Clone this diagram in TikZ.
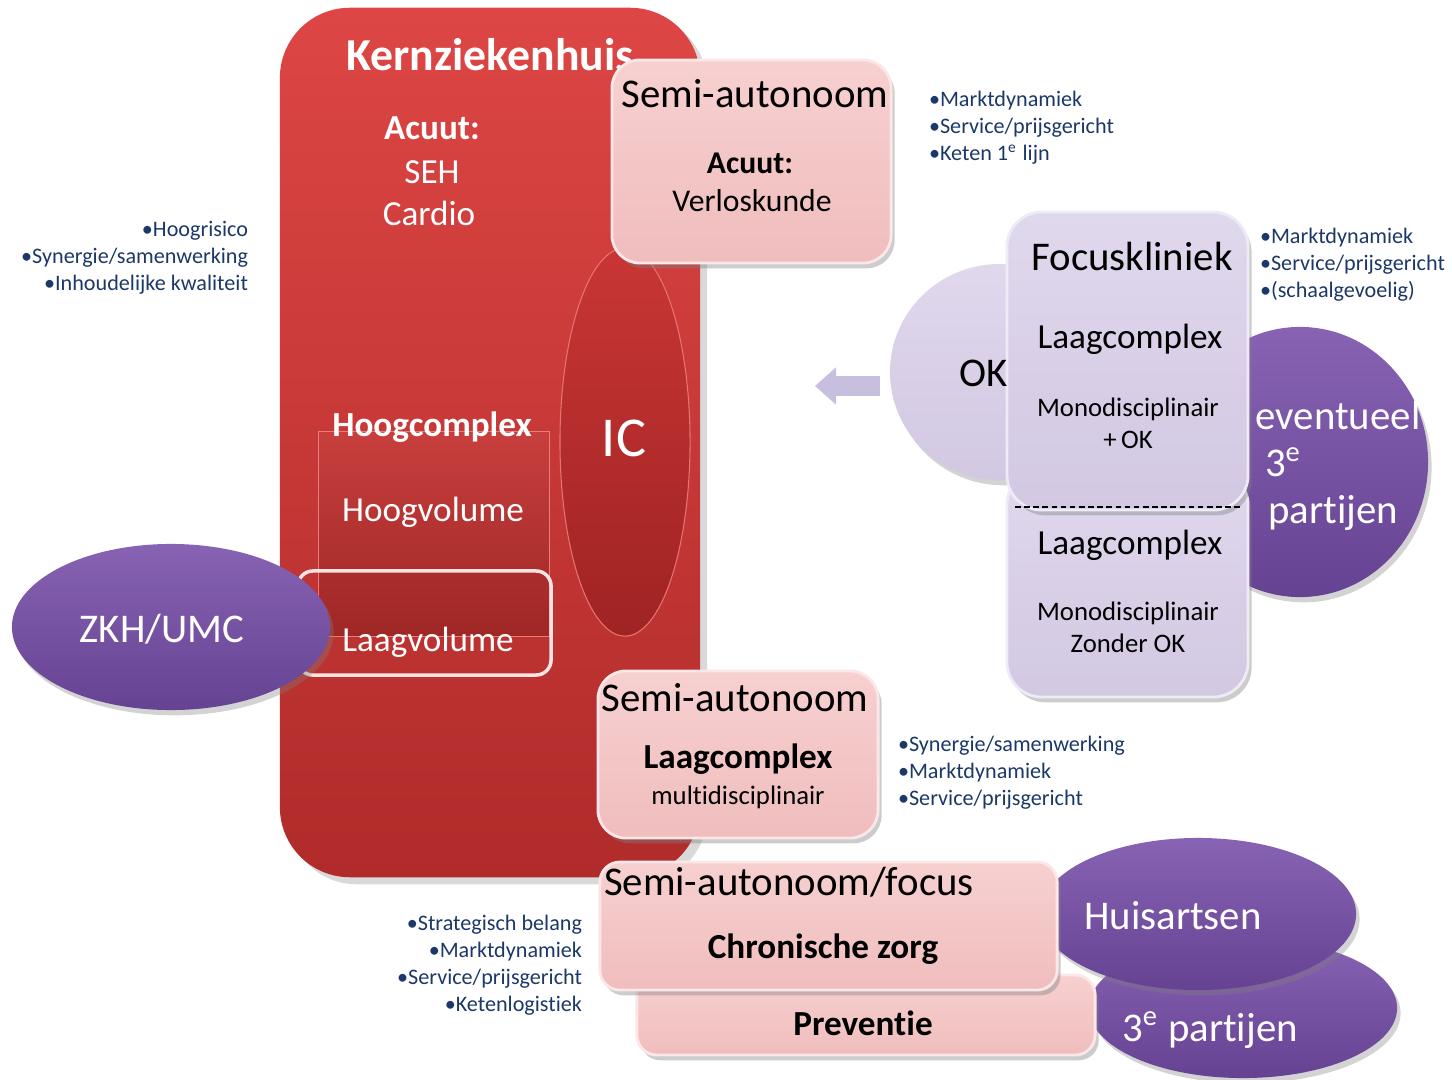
\documentclass[tikz,border=0pt]{standalone}
\usepackage{fontspec}
\setmainfont[Ligatures={NoCommon}]{Carlito}
\usetikzlibrary{shadows,shapes.geometric,arrows.meta}

\definecolor{kernTop}{RGB}{221,70,68}
\definecolor{kernBot}{RGB}{176,43,42}
\definecolor{icTop}{RGB}{200,54,53}
\definecolor{icBot}{RGB}{160,35,35}
\definecolor{pinkTop}{RGB}{247,208,208}
\definecolor{pinkBot}{RGB}{240,189,189}
\definecolor{lilacTop}{RGB}{224,216,237}
\definecolor{lilacBot}{RGB}{210,200,226}
\definecolor{purpTop}{RGB}{136,99,180}
\definecolor{purpBot}{RGB}{102,66,146}
\definecolor{listblue}{RGB}{28,56,104}
\definecolor{arrowlilac}{RGB}{200,190,222}

\begin{document}
\begin{tikzpicture}[x=0.01cm,y=-0.01cm,inner sep=0pt,outer sep=0pt,
kernblock/.style={rectangle,rounded corners=0.7cm,top color=kernTop,bottom color=kernBot,drop shadow={opacity=0.3,shadow xshift=2pt,shadow yshift=-2pt}},
hoogrect/.style={rectangle,top color=kernTop!90!black,bottom color=kernBot!90!black,draw=kernTop!70!white,line width=0.3pt},
icoval/.style={ellipse,top color=icTop,bottom color=icBot,draw=kernTop!75!white,line width=0.3pt},
laagrect/.style={rectangle,rounded corners=0.15cm,draw=pinkTop!60!white,line width=1pt},
pinkblock/.style={rectangle,rounded corners=0.28cm,top color=pinkTop,bottom color=pinkBot,draw=pinkTop!50!white,line width=0.8pt,drop shadow={opacity=0.4,shadow xshift=1pt,shadow yshift=-1.5pt}},
lilacblock/.style={rectangle,rounded corners=0.35cm,top color=lilacTop,bottom color=lilacBot,draw=lilacTop!50!white,line width=0.8pt,drop shadow={opacity=0.4,shadow xshift=1pt,shadow yshift=-1.5pt}},
purpoval/.style={ellipse,top color=purpTop,bottom color=purpBot,drop shadow={opacity=0.35,shadow xshift=1pt,shadow yshift=-1.5pt}},
lilacoval/.style={ellipse,top color=lilacTop,bottom color=lilacBot,drop shadow={opacity=0.35,shadow xshift=1pt,shadow yshift=-1.5pt}},
titletext/.style={font=\fontsize{11.6}{14}\selectfont},
bodytext/.style={font=\fontsize{10}{12}\selectfont},
smalltext/.style={font=\fontsize{7.6}{9.1}\selectfont,align=center},
listtext/.style={text=listblue,font=\fontsize{6.3}{7.7}\selectfont}]

\useasboundingbox (0,0) rectangle (1452,1079);

%%% Kernziekenhuis (red block) %%%%%
\draw (490,442.5) node[kernblock,minimum width=4.2cm,minimum height=8.69cm] (kern) {};
\draw (434,534) node[hoogrect,minimum width=2.3cm,minimum height=2.04cm] (hoog) {};
\draw (625,442) node[icoval,minimum width=1.3cm,minimum height=3.88cm] (ic) {};
\draw (424.5,623) node[laagrect,minimum width=2.53cm,minimum height=1.04cm] (laag) {};

	%%% Texts in red block
	\draw (490,55) node[text=white,font=\fontsize{13}{15}\selectfont\bfseries] (kerntitle) {Kernziekenhuis};
	\draw (432,128) node[text=white,bodytext,font=\bfseries] (kernacuut) {Acuut:};
	\draw (432,172) node[text=white,bodytext] (seh) {SEH};
	\draw (429,213) node[text=white,bodytext] (cardio) {Cardio};
	\draw (432,427) node[text=white,bodytext,font=\bfseries] (hoogcomplex) {Hoogcomplex};
	\draw (433,512) node[text=white,bodytext] (hoogvolume) {Hoogvolume};
	\draw (428,642) node[text=white,bodytext] (laagvolume) {Laagvolume};
	\draw (624,438) node[text=white,font=\fontsize{16}{18}\selectfont] (ictext) {IC};

%%% ZKH/UMC %%%%%
\draw (171,627) node[purpoval,minimum width=3.18cm,minimum height=1.66cm] (zkh) {};
\draw (162,629) node[text=white,titletext] (zkhtext) {ZKH/UMC};

%%% Semi-autonoom (top) %%%%%
\draw (751.5,161.5) node[pinkblock,minimum width=2.79cm,minimum height=2.03cm] (semitop) {};
\draw (755,94) node[titletext] (semitoptitle) {Semi-autonoom};
\draw (750,163) node[font=\fontsize{9}{11}\selectfont\bfseries] (semiacuut) {Acuut:};
\draw (752,201) node[font=\fontsize{9}{11}\selectfont] (verlos) {Verloskunde};

%%% Focuskliniek (right) %%%%%
\draw (1300,462) node[purpoval,minimum width=2.56cm,minimum height=2.7cm] (derden) {};
\draw (1000,372) node[lilacoval,minimum width=2.2cm,minimum height=2.16cm] (ok) {};
\draw (1127.5,583.5) node[lilacblock,minimum width=2.41cm,minimum height=2.27cm] (zonderok) {};
\draw (1127.5,361) node[lilacblock,minimum width=2.41cm,minimum height=2.98cm] (focus) {};
\draw[dash pattern=on 1.6pt off 1pt,line width=0.5pt] ([xshift=0.08cm,yshift=0.03cm]focus.south west) -- ([xshift=-0.06cm,yshift=0.03cm]focus.south east);

	\draw (984,373) node[titletext] (oktext) {OK};
	\draw (1132,256) node[titletext] (focustitle) {Focuskliniek};
	\draw (1130,339) node[bodytext] (laagc1) {Laagcomplex};
	\draw (1128,423) node[smalltext] (mono1) {Monodisciplinair\\+\,OK};
	\draw (1130,545) node[bodytext] (laagc2) {Laagcomplex};
	\draw (1128,627) node[smalltext] (mono2) {Monodisciplinair\\Zonder OK};
	\draw (1338,415) node[text=white,titletext] (eventueel) {eventueel};
	\draw (1265,462) node[text=white,titletext,anchor=west] (derde) {3\textsuperscript{e}};
	\draw (1333,513) node[text=white,titletext] (partijen) {partijen};

	%%% Arrow back to kernziekenhuis
	\coordinate (terugstart) at (880,386);
	\coordinate (terugend) at (815,386);
	\draw[arrowlilac,line width=0.2cm,-{Triangle[length=0.21cm,width=0.36cm]}] (terugstart) -- (terugend);

%%% Semi-autonoom (middle) %%%%%
\draw (738,754.5) node[pinkblock,minimum width=2.8cm,minimum height=1.67cm] (semimid) {};
\draw (735,698) node[titletext] (semimidtitle) {Semi-autonoom};
\draw (738,759) node[bodytext,font=\bfseries] (laagc3) {Laagcomplex};
\draw (738,797) node[smalltext] (multi) {multidisciplinair};

%%% Semi-autonoom/focus (bottom) %%%%%
\draw (1243,1008) node[purpoval,minimum width=3.08cm,minimum height=1.4cm] (partij) {};
\draw (866,1015) node[pinkblock,rounded corners=0.2cm,minimum width=4.58cm,minimum height=0.8cm] (prev) {};
\draw (1198,914) node[purpoval,minimum width=3.16cm,minimum height=1.52cm] (huis) {};
\draw (828.5,926) node[pinkblock,rounded corners=0.2cm,minimum width=4.57cm,minimum height=1.28cm] (chron) {};

	\draw (604,882) node[titletext,anchor=west] (focustext) {Semi-autonoom/focus};
	\draw (823,949) node[bodytext,font=\bfseries] (chrontext) {Chronische zorg};
	\draw (863,1023) node[bodytext,font=\bfseries] (prevtext) {Preventie};
	\draw (1173,916) node[text=white,titletext] (huistext) {Huisartsen};
	\draw (1210,1030) node[text=white,titletext] (partijtext) {3\textsuperscript{e} partijen};

%%% Bullet lists %%%%%
\draw (248,258) node[listtext,anchor=east,align=right] (listkern) {•Hoogrisico\\•Synergie/samenwerking\\•Inhoudelijke kwaliteit};
\draw (929,128) node[listtext,anchor=west,align=left] (listsemitop) {•Marktdynamiek\\•Service/prijsgericht\\•Keten 1\textsuperscript{e} lijn};
\draw (1260,265) node[listtext,anchor=west,align=left] (listfocus) {•Marktdynamiek\\•Service/prijsgericht\\•(schaalgevoelig)};
\draw (898,773) node[listtext,anchor=west,align=left] (listsemimid) {•Synergie/samenwerking\\•Marktdynamiek\\•Service/prijsgericht};
\draw (582,965.5) node[listtext,anchor=east,align=right] (listchron) {•Strategisch belang\\•Marktdynamiek\\•Service/prijsgericht\\•Ketenlogistiek};

\end{tikzpicture}
\end{document}
